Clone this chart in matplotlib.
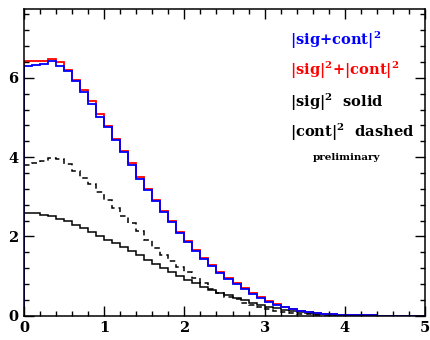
import numpy as np
import matplotlib
matplotlib.use('Agg')
import matplotlib.pyplot as plt
from matplotlib.ticker import MultipleLocator

plt.rcParams['mathtext.fontset'] = 'dejavuserif'

# 50 bins of width 0.1 over [0, 5]
edges = np.round(np.arange(0, 5.01, 0.1), 2)

# |sig+cont|^2
sig_cont = [6.31, 6.32, 6.34, 6.42, 6.31, 6.17, 5.91, 5.65, 5.33, 5.02,
            4.75, 4.42, 4.12, 3.80, 3.46, 3.17, 2.89, 2.61, 2.36, 2.09,
            1.86, 1.63, 1.44, 1.26, 1.08, 0.93, 0.80, 0.67, 0.55, 0.44,
            0.35, 0.27, 0.21, 0.16, 0.12, 0.09, 0.065, 0.045, 0.032, 0.022,
            0.015, 0.010, 0.007, 0.005, 0.003, 0.002, 0.001, 0.001, 0.0, 0.0]

# |sig|^2 + |cont|^2
sig2_plus_cont2 = [6.42, 6.42, 6.42, 6.47, 6.41, 6.21, 5.94, 5.69, 5.41, 5.09,
                   4.78, 4.47, 4.16, 3.84, 3.50, 3.20, 2.91, 2.65, 2.39, 2.12,
                   1.89, 1.66, 1.46, 1.29, 1.10, 0.96, 0.82, 0.69, 0.57, 0.46,
                   0.37, 0.29, 0.22, 0.17, 0.13, 0.10, 0.07, 0.05, 0.035, 0.025,
                   0.017, 0.012, 0.008, 0.005, 0.003, 0.002, 0.001, 0.001, 0.0, 0.0]

# |sig|^2
sig2 = [2.59, 2.58, 2.54, 2.51, 2.45, 2.38, 2.30, 2.22, 2.12, 2.02,
        1.92, 1.84, 1.74, 1.64, 1.53, 1.41, 1.31, 1.21, 1.11, 1.01,
        0.90, 0.82, 0.73, 0.64, 0.58, 0.51, 0.45, 0.39, 0.33, 0.28,
        0.23, 0.19, 0.15, 0.12, 0.09, 0.07, 0.05, 0.04, 0.03, 0.02,
        0.014, 0.010, 0.007, 0.005, 0.003, 0.002, 0.001, 0.0, 0.0, 0.0]

# |cont|^2
cont2 = [3.80, 3.84, 3.90, 3.98, 3.96, 3.82, 3.64, 3.48, 3.32, 3.11,
         2.91, 2.71, 2.52, 2.34, 2.14, 1.92, 1.72, 1.53, 1.38, 1.23,
         1.09, 0.96, 0.82, 0.68, 0.57, 0.48, 0.41, 0.33, 0.27, 0.21,
         0.16, 0.12, 0.09, 0.07, 0.05, 0.035, 0.025, 0.018, 0.012, 0.008,
         0.005, 0.003, 0.002, 0.001, 0.0, 0.0, 0.0, 0.0, 0.0, 0.0]

fig = plt.figure(figsize=(4.31, 3.40), dpi=100)
ax = fig.add_axes([0.0557, 0.0715, 0.9303, 0.9035])

ax.stairs(sig2, edges, baseline=0, color='black', linewidth=1.1)
ax.stairs(cont2, edges, baseline=None, color='black', linewidth=1.1,
          linestyle=(0, (3.6, 2.6)))
ax.stairs(sig2_plus_cont2, edges, baseline=0, color='red', linewidth=1.3)
ax.stairs(sig_cont, edges, baseline=0, color='blue', linewidth=1.3)

ax.set_xlim(0, 5)
ax.set_ylim(0, 7.75)

ax.xaxis.set_major_locator(MultipleLocator(1))
ax.xaxis.set_minor_locator(MultipleLocator(0.2))
ax.yaxis.set_major_locator(MultipleLocator(2))
ax.yaxis.set_minor_locator(MultipleLocator(0.4))
ax.tick_params(which='both', direction='in', top=True, right=True, width=1.0)
ax.tick_params(which='major', length=7, labelsize=10.5, pad=4)
ax.tick_params(which='minor', length=3.5)
for lab in ax.get_xticklabels() + ax.get_yticklabels():
    lab.set_fontweight('bold')
    lab.set_family('DejaVu Serif')
for sp in ax.spines.values():
    sp.set_linewidth(1.1)

sq = r'$^{\mathbf{2}}$'
tx = 0.663
kw = dict(transform=ax.transAxes, ha='left', va='center',
          family='DejaVu Serif', fontweight='bold', fontsize=10.5)
ax.text(tx, 1 - (40 - 8.5) / 307.2, '|sig+cont|' + sq, color='blue', **kw)
ax.text(tx, 1 - (70 - 8.5) / 307.2, '|sig|' + sq + '+|cont|' + sq, color='red', **kw)
ax.text(tx, 1 - (102 - 8.5) / 307.2, '|sig|' + sq + '  solid', color='black', **kw)
ax.text(tx, 1 - (132 - 8.5) / 307.2, '|cont|' + sq + '  dashed', color='black', **kw)
ax.text(0.805, 1 - (158 - 8.5) / 307.2, 'preliminary', transform=ax.transAxes,
        ha='center', va='center', family='DejaVu Serif', fontweight='bold',
        fontsize=7.5)

plt.savefig('out.png', dpi=100)
